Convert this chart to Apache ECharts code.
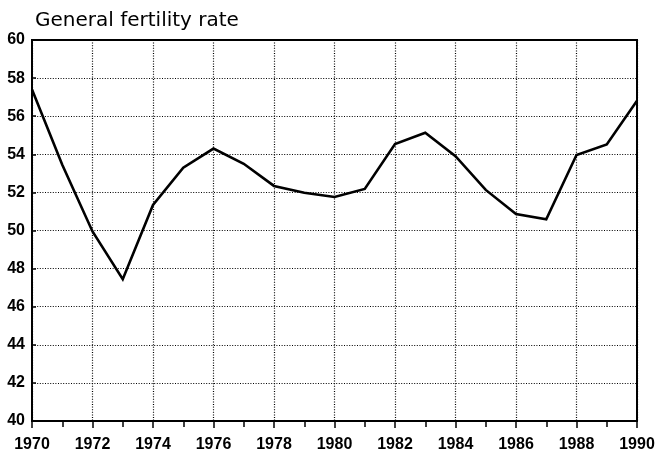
<!DOCTYPE html>
<html>
<head>
<meta charset="utf-8">
<style>
  html, body { margin: 0; padding: 0; background: #fff; }
  #chart { width: 660px; height: 457px; }
</style>
<script src="https://cdn.jsdelivr.net/npm/echarts@6/dist/echarts.min.js"></script>
</head>
<body>
<div id="chart"></div>
<script>
// General fertility rate, 1970-1990
const years = [1970, 1971, 1972, 1973, 1974, 1975, 1976, 1977, 1978, 1979, 1980,
               1981, 1982, 1983, 1984, 1985, 1986, 1987, 1988, 1989, 1990];
const rates = [57.4, 53.45, 49.95, 47.44, 51.34, 53.3, 54.3, 53.5, 52.34, 51.98, 51.76,
               52.18, 54.54, 55.13, 53.9, 52.13, 50.87, 50.59, 53.96, 54.52, 56.81];
const yTicks = [40, 42, 44, 46, 48, 50, 52, 54, 56, 58, 60];
const titleText = 'General fertility rate';

const chart = echarts.init(document.getElementById('chart'), null, { renderer: 'canvas' });

const tickFont = {
  color: '#000',
  fontFamily: "'Liberation Sans', Arial, sans-serif",
  fontSize: 16,
  fontWeight: 'bold'
};
const dotted = { color: '#000', width: 1.2, type: [1, 1.6] };

chart.setOption({
  animation: false,
  backgroundColor: '#fff',
  title: {
    text: titleText,
    left: 35,
    top: 11,
    padding: 0,
    textStyle: {
      fontFamily: "'DejaVu Sans', sans-serif",
      fontSize: 20,
      fontWeight: 'normal',
      color: '#000'
    }
  },
  grid: {
    left: 32, right: 23, top: 40, bottom: 36,
    show: true,
    borderColor: '#000',
    borderWidth: 2,
    backgroundColor: 'transparent'
  },
  xAxis: {
    type: 'value',
    min: years[0],
    max: years[years.length - 1],
    interval: 2,
    axisLine: { show: true, lineStyle: { color: '#000', width: 2 } },
    axisTick: { show: true, inside: false, length: 7, lineStyle: { color: '#000', width: 1.5 } },
    minorTick: { show: true, splitNumber: 2, length: 6, lineStyle: { color: '#000', width: 1.5 } },
    axisLabel: Object.assign({ margin: 16, formatter: v => String(v) }, tickFont),
    splitLine: { show: true, lineStyle: dotted }
  },
  yAxis: {
    type: 'value',
    min: yTicks[0],
    max: yTicks[yTicks.length - 1],
    interval: 2,
    axisLine: { show: true, lineStyle: { color: '#000', width: 2 } },
    axisTick: { show: true, inside: true, length: 4, lineStyle: { color: '#000', width: 1.5 } },
    axisLabel: Object.assign({ margin: 7 }, tickFont),
    splitLine: { show: true, lineStyle: dotted }
  },
  series: [{
    type: 'line',
    data: years.map((y, i) => [y, rates[i]]),
    showSymbol: false,
    symbol: 'none',
    lineStyle: { color: '#000', width: 2.6, join: 'miter' },
    z: 5
  }]
});
</script>
</body>
</html>
